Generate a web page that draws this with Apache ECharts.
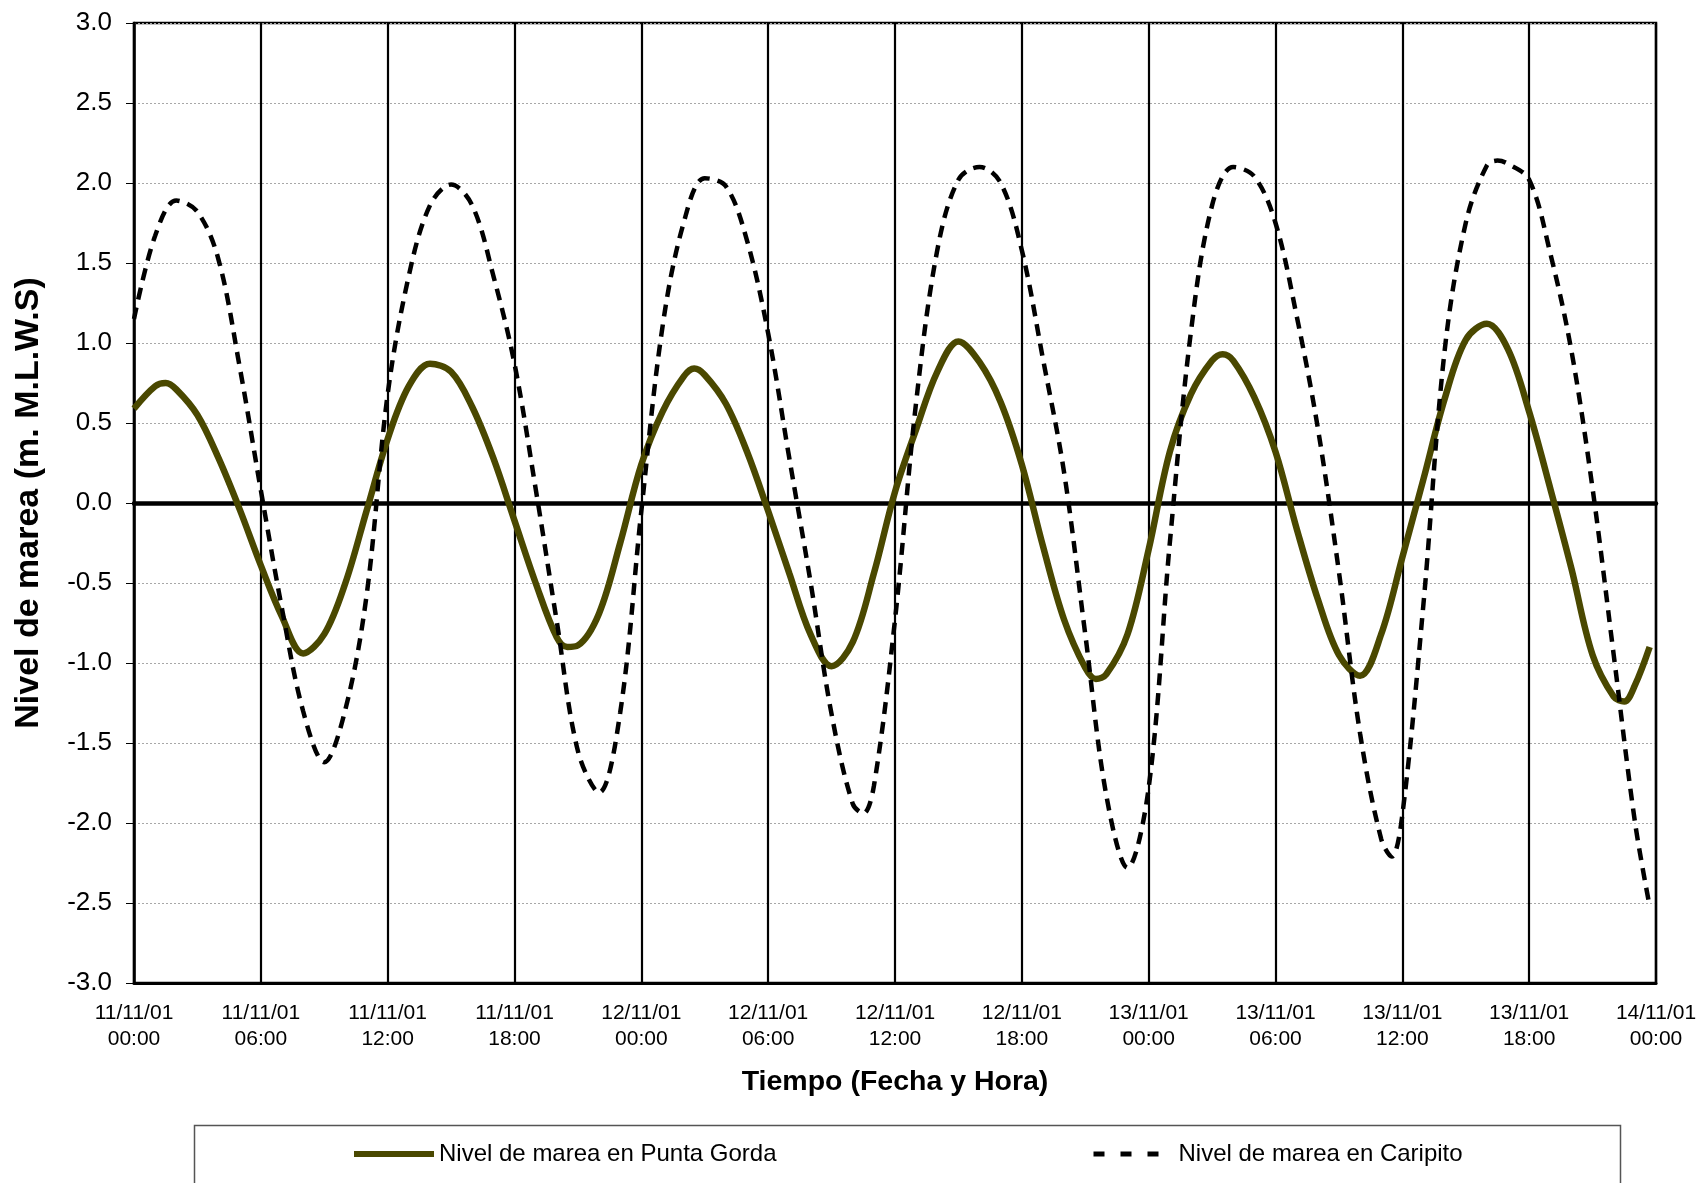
<!DOCTYPE html>
<html>
<head>
<meta charset="utf-8">
<title>Nivel de marea</title>
<script src="https://cdn.jsdelivr.net/npm/echarts@6/dist/echarts.min.js"></script>
<style>
  html, body { margin: 0; padding: 0; background: #fff; }
  #chart { width: 1702px; height: 1183px; }
</style>
</head>
<body>
<div id="chart"></div>
<script>
// Time axis: hours from 11/11/01 00:00, one tick every 6 hours
const tickLabels = [
  '11/11/01\n00:00', '11/11/01\n06:00', '11/11/01\n12:00', '11/11/01\n18:00',
  '12/11/01\n00:00', '12/11/01\n06:00', '12/11/01\n12:00', '12/11/01\n18:00',
  '13/11/01\n00:00', '13/11/01\n06:00', '13/11/01\n12:00', '13/11/01\n18:00',
  '14/11/01\n00:00'
];

// Tide level at Punta Gorda [hour, metres M.L.W.S]
const puntaGorda = [
  [0,0.59],[1,0.73],[1.5,0.75],[2,0.71],[3,0.55],[4,0.28],[5,-0.04],[6,-0.39],[7,-0.71],[8,-0.94],
  [9,-0.82],[10,-0.50],[11,-0.05],[12,0.40],[13,0.73],[14,0.87],[15,0.82],[16,0.60],[17,0.28],
  [18,-0.11],[19,-0.50],[20,-0.84],[20.5,-0.90],[21,-0.89],[22,-0.69],[23,-0.25],[24,0.24],[25,0.57],[26,0.79],
  [26.5,0.84],[27,0.80],[28,0.62],[29,0.32],[30,-0.05],[31,-0.44],[32,-0.82],[33,-1.02],[34,-0.87],[35,-0.44],
  [36,0.07],[37,0.46],[38,0.82],[39,1.01],[40,0.88],[41,0.63],[42,0.24],[43,-0.27],[44,-0.73],[45,-1.03],
  [45.5,-1.10],[46,-1.07],[47,-0.82],[48,-0.29],[49,0.32],[50,0.68],[51,0.89],[51.5,0.93],[52,0.89],[53,0.66],
  [54,0.32],[55,-0.16],[56,-0.60],[57,-0.95],[58,-1.08],[59,-0.82],[60,-0.34],[61,0.15],[62,0.65],
  [63,1.02],[64,1.12],[65,0.96],[66,0.57],[67,0.09],[68,-0.41],[69,-0.95],[70,-1.21],[70.5,-1.24],
  [71,-1.14],[71.7,-0.90]
];

// Tide level at Caripito [hour, metres M.L.W.S]
const caripito = [
  [0,1.15],[1,1.67],[2,1.89],[3,1.82],[4,1.52],[5,0.85],[6,0.08],[7,-0.66],[8,-1.30],[9,-1.62],
  [10,-1.29],[11,-0.58],[12,0.68],[13,1.42],[14,1.86],[15,1.99],[16,1.86],[17,1.42],[18,0.87],
  [19,0.09],[20,-0.74],[21,-1.55],[22,-1.81],[23,-1.31],[24,-0.05],[25,1.10],[26,1.75],[27,2.03],
  [28,1.98],[29,1.64],[30,1.06],[31,0.28],[32,-0.49],[33,-1.32],[34,-1.88],[34.5,-1.94],[35,-1.77],
  [36,-0.73],[37,0.63],[38,1.58],[39,2.02],[40,2.10],[41,2.00],[42,1.58],[43,0.90],[44,0.19],
  [45,-0.82],[46,-1.83],[47,-2.28],[48,-1.78],[49,-0.25],[50,1.07],[51,1.86],[52,2.10],[53,2.04],
  [54,1.75],[55,1.17],[56,0.47],[57,-0.43],[58,-1.44],[59,-2.10],[59.5,-2.21],[60,-1.95],[61,-0.63],[62,0.95],
  [63,1.75],[64,2.11],[64.5,2.14],[65,2.12],[66,2.02],[67,1.56],[68,0.95],[69,0.09],[70,-0.95],[71,-1.99],
  [71.7,-2.52]
];

const seriesNames = ['Nivel de marea en Punta Gorda', 'Nivel de marea en Caripito'];
const FONT = '"Liberation Sans", Arial, Helvetica, sans-serif';
const OLIVE = '#4a4800';

const chart = echarts.init(document.getElementById('chart'), null, { renderer: 'canvas' });

chart.setOption({
  animation: false,
  backgroundColor: '#ffffff',
  textStyle: { fontFamily: FONT, color: '#000' },
  grid: {
    left: 134, top: 23, width: 1522, height: 960,
    show: true, borderColor: '#000', borderWidth: 2.5, backgroundColor: 'transparent'
  },
  xAxis: [
    {
      type: 'value', min: 0, max: 72, interval: 6, position: 'bottom',
      axisLine: { onZero: false, lineStyle: { color: '#000', width: 3 } },
      axisTick: { show: false },
      splitLine: { show: true, lineStyle: { color: '#000', width: 2.2 } },
      axisLabel: {
        formatter: v => tickLabels[Math.round(v / 6)] || '',
        color: '#000', fontSize: 21, lineHeight: 26, margin: 17,
        fontFamily: FONT, showMinLabel: true, showMaxLabel: true
      },
      name: 'Tiempo (Fecha y Hora)', nameLocation: 'middle', nameGap: 99,
      nameTextStyle: { fontSize: 28.5, fontWeight: 'bold', color: '#000', fontFamily: FONT, verticalAlign: 'middle' }
    },
    {
      // horizontal reference line through 0.0
      type: 'value', min: 0, max: 72, interval: 6, position: 'top',
      axisLine: { onZero: true, lineStyle: { color: '#000', width: 4.5 } },
      axisTick: { show: false }, axisLabel: { show: false }, splitLine: { show: false }
    }
  ],
  yAxis: {
    type: 'value', min: -3, max: 3, interval: 0.5,
    axisLine: { show: true, onZero: false, lineStyle: { color: '#000', width: 2.5 } },
    axisTick: { show: true, length: 8, lineStyle: { color: '#000', width: 1 } },
    axisLabel: { formatter: v => v.toFixed(1), color: '#000', fontSize: 26, margin: 22, fontFamily: FONT },
    splitLine: { show: true, lineStyle: { color: '#a8a8a8', width: 1, type: [2, 2] } },
    name: 'Nivel de marea (m. M.L.W.S)', nameLocation: 'middle', nameGap: 105,
    nameTextStyle: { fontSize: 34, fontWeight: 'bold', color: '#000', fontFamily: FONT, verticalAlign: 'middle' }
  },
  legend: [
    {
      data: [seriesNames[0]], left: 351, top: 1142, padding: 0,
      itemWidth: 80, itemHeight: 24, itemGap: 0,
      itemStyle: { opacity: 0 },
      lineStyle: { width: 6, color: OLIVE },
      textStyle: { fontSize: 24, color: '#000', fontFamily: FONT }
    },
    {
      data: [seriesNames[1]], left: 1091, top: 1142, padding: 0,
      itemWidth: 66, itemHeight: 24, itemGap: 0,
      itemStyle: { opacity: 0 },
      lineStyle: { width: 5, color: '#000', type: [11, 16] },
      textStyle: { fontSize: 24, color: '#000', fontFamily: FONT, padding: [0, 0, 0, 14] }
    }
  ],
  graphic: [
    {
      type: 'rect', left: 192, top: 1123, silent: true,
      shape: { width: 1426, height: 120 },
      style: { fill: 'none', stroke: '#555', lineWidth: 1.5 }
    }
  ],
  series: [
    {
      name: seriesNames[0], type: 'line', data: puntaGorda,
      symbol: 'none', showSymbol: false, smooth: 0.35,
      lineStyle: { color: OLIVE, width: 6.5 },
      itemStyle: { color: OLIVE }
    },
    {
      name: seriesNames[1], type: 'line', data: caripito,
      symbol: 'none', showSymbol: false, smooth: 0.35,
      lineStyle: { color: '#000', width: 4.5, type: [12, 8] },
      itemStyle: { color: '#000' }
    }
  ]
});
</script>
</body>
</html>
